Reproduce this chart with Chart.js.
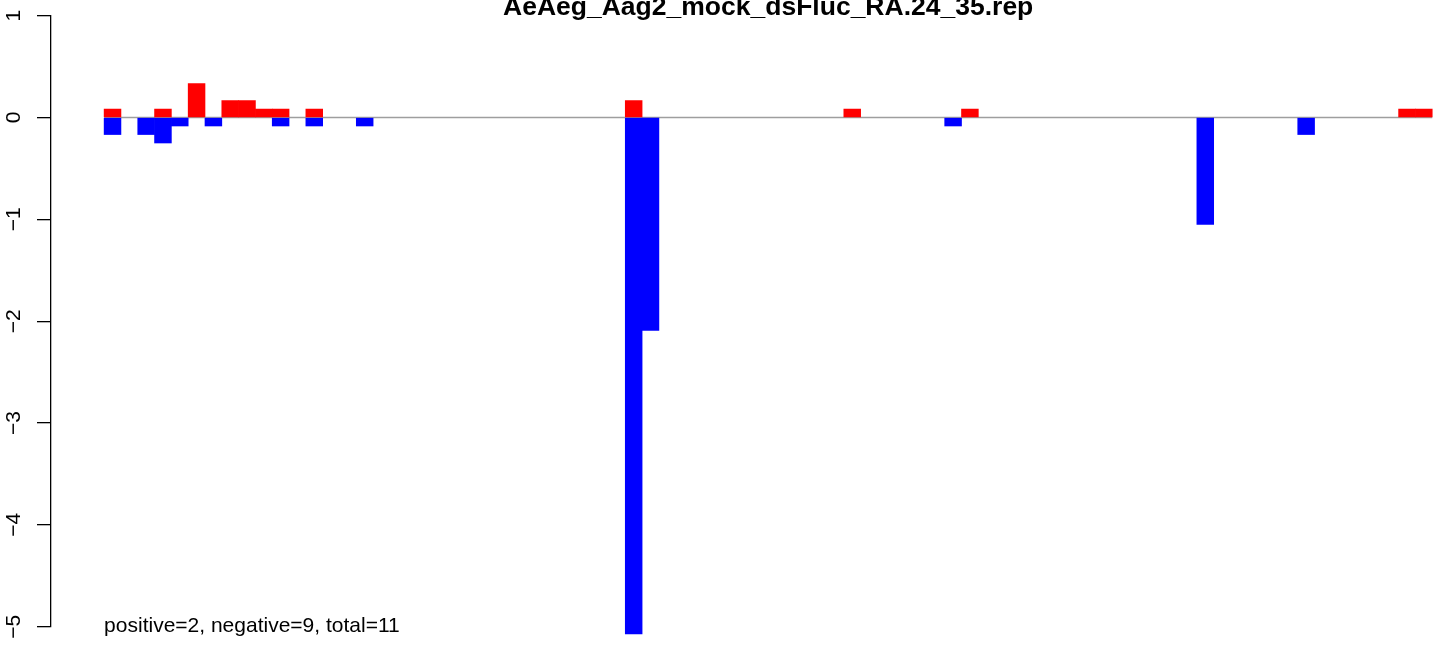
<!DOCTYPE html>
<html>
<head>
<meta charset="utf-8">
<script src="https://cdn.jsdelivr.net/npm/chart.js@4"></script>
<style>
  body { margin: 0; background: #fff; }
  canvas { display: block; }
</style>
</head>
<body>
<canvas id="rep-chart" width="1444" height="649"></canvas>
<script>
// Chart text
var titleText = "AeAeg_Aag2_mock_dsFluc_RA.24_35.rep";
var noteText = "positive=2, negative=9, total=11";

// Y axis tick labels
var yTicks = [1, 0, -1, -2, -3, -4, -5];

// Values per position (79 positions)
var positive = [
  0.083, 0, 0, 0.083, 0, 0.333, 0, 0.167, 0.167, 0.083,
  0.083, 0, 0.083, 0, 0, 0, 0, 0, 0, 0,
  0, 0, 0, 0, 0, 0, 0, 0, 0, 0,
  0, 0.167, 0, 0, 0, 0, 0, 0, 0, 0,
  0, 0, 0, 0, 0.083, 0, 0, 0, 0, 0,
  0, 0.083, 0, 0, 0, 0, 0, 0, 0, 0,
  0, 0, 0, 0, 0, 0, 0, 0, 0, 0,
  0, 0, 0, 0, 0, 0, 0, 0.083, 0.083
];
var negative = [
  -0.167, 0, -0.167, -0.25, -0.083, 0, -0.083, 0, 0, 0,
  -0.083, 0, -0.083, 0, 0, -0.083, 0, 0, 0, 0,
  0, 0, 0, 0, 0, 0, 0, 0, 0, 0,
  0, -5.07, -2.09, 0, 0, 0, 0, 0, 0, 0,
  0, 0, 0, 0, 0, 0, 0, 0, 0, 0,
  -0.083, 0, 0, 0, 0, 0, 0, 0, 0, 0,
  0, 0, 0, 0, 0, -1.05, 0, 0, 0, 0,
  0, -0.167, 0, 0, 0, 0, 0, 0, 0
];

var n = positive.length;
var fontFamily = "'Liberation Sans', Arial, Helvetica, sans-serif";

// empty positions become null so no zero-height bar is drawn
function toPoints(values) {
  return values.map(function (v, i) {
    return { x: i + 0.5, y: v === 0 ? null : v };
  });
}

// title centred over the bar range, note text at (0, -5) like R's text()
var textPlugin = {
  id: "texts",
  afterDraw: function (chart) {
    var ctx = chart.ctx;
    var xs = chart.scales.x;
    var ys = chart.scales.y;
    ctx.save();
    ctx.fillStyle = "#000";

    ctx.font = "bold 26.5px " + fontFamily;
    ctx.textAlign = "center";
    ctx.textBaseline = "alphabetic";
    ctx.fillText(titleText, xs.getPixelForValue(n / 2), 14.5);

    ctx.font = "21px " + fontFamily;
    ctx.textAlign = "left";
    ctx.textBaseline = "middle";
    ctx.fillText(noteText, xs.getPixelForValue(0), ys.getPixelForValue(-5));
    ctx.restore();
  },
};

var canvas = document.getElementById("rep-chart");

var chart = new Chart(canvas, {
  type: "bar",
  data: {
    datasets: [
      {
        label: "positive",
        data: toPoints(positive),
        backgroundColor: "#ff0000",
        borderWidth: 0,
        grouped: false,
        categoryPercentage: 1,
        barPercentage: 1,
        order: 1,
      },
      {
        label: "negative",
        data: toPoints(negative),
        backgroundColor: "#0000ff",
        borderWidth: 0,
        grouped: false,
        categoryPercentage: 1,
        barPercentage: 1,
        clip: false,
        order: 2,
      },
      {
        type: "line",
        label: "zero",
        data: [{ x: 0, y: 0 }, { x: n, y: 0 }],
        borderColor: "#9e9e9e",
        borderWidth: 1.4,
        pointRadius: 0,
        order: 3,
      },
    ],
  },
  options: {
    responsive: false,
    animation: false,
    layout: {
      padding: { left: 1, right: 0, top: 15.7, bottom: 22.3 },
    },
    plugins: {
      legend: { display: false },
      tooltip: { enabled: false },
      title: { display: false },
    },
    scales: {
      x: {
        type: "linear",
        display: false,
        offset: false,
        min: -0.04 * n,
        max: 79.7,
      },
      y: {
        min: -5,
        max: 1,
        afterFit: function (scale) {
          scale.width = 50;
          scale.paddingTop = 0;
          scale.paddingBottom = 0;
        },
        afterBuildTicks: function (scale) {
          scale.ticks = yTicks.map(function (v) {
            return { value: v };
          });
        },
        border: { display: true, color: "#000", width: 1.3 },
        grid: {
          drawOnChartArea: false,
          drawTicks: true,
          tickLength: 14,
          color: "#000",
          lineWidth: 1.3,
        },
        ticks: {
          minRotation: 90,
          maxRotation: 90,
          crossAlign: "center",
          padding: 11,
          color: "#000",
          font: { family: fontFamily, size: 21 },
          callback: function (value) {
            return value < 0 ? "\u2212" + Math.abs(value) : String(value);
          },
        },
      },
    },
  },
  plugins: [textPlugin],
});
</script>
</body>
</html>
